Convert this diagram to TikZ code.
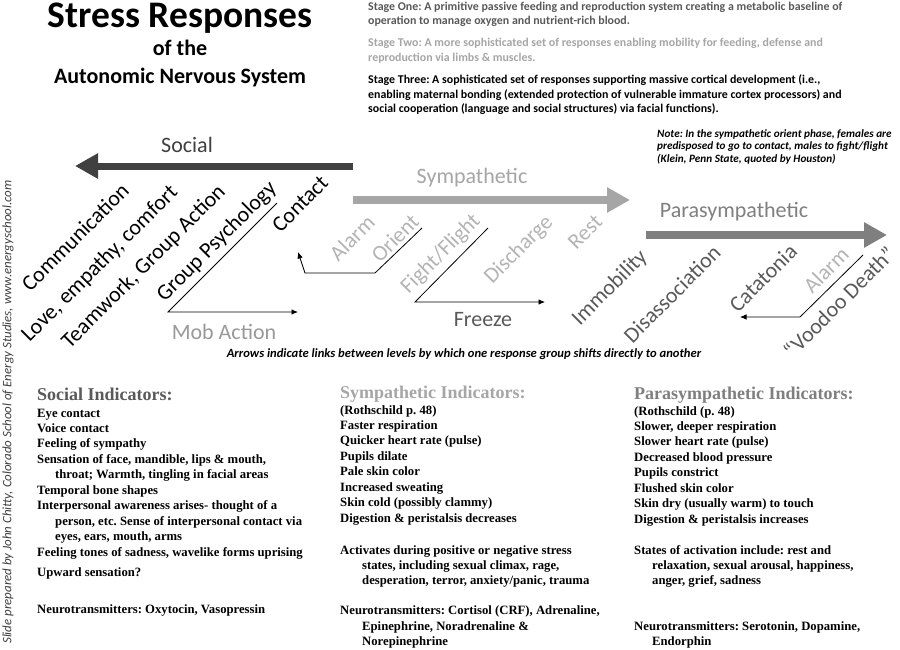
\documentclass[tikz,border=0pt]{standalone}
\usepackage{fontspec}
\setmainfont{Carlito}
\newfontfamily\tmsfont{Liberation Serif}
\usetikzlibrary{arrows.meta}
\frenchspacing
\definecolor{socdark}{HTML}{404040}
\definecolor{symgray}{HTML}{A6A6A6}
\definecolor{symlbl}{HTML}{B4B4B4}
\definecolor{pargray}{HTML}{7F7F7F}
\definecolor{pardark}{HTML}{595959}
\definecolor{stageone}{HTML}{595959}
\definecolor{mobgray}{HTML}{999999}
\definecolor{sidegray}{HTML}{404040}
\begin{document}
\frenchspacing
\begin{tikzpicture}[x=1pt,y=-1pt,
  every node/.style={inner sep=0pt},
  lbl/.style={font=\fontsize{22}{26}\selectfont},
  soclbl/.style={lbl,text=black,rotate=45},
  symlabel/.style={lbl,text=symlbl,rotate=45},
  parlabel/.style={lbl,text=pardark,rotate=45},
  band/.style={line width=8pt,-{Triangle[length=23pt,width=24pt]}},
  link/.style={line width=0.8pt,draw=black},
  linkarrow/.style={link,-{Latex[length=6.5pt,width=5.5pt]}},
  stagetxt/.style={anchor=base west,font=\fontsize{11.9}{14}\selectfont\bfseries},
  notetxt/.style={anchor=base west,font=\fontsize{11.2}{12}\selectfont\bfseries\itshape},
  ind/.style={anchor=base west,font=\tmsfont\fontsize{12.7}{15}\selectfont\bfseries},
  indhead/.style={anchor=base west,font=\tmsfont\fontsize{18}{20}\selectfont\bfseries}
]
\useasboundingbox (0,0) rectangle (900,649);
\fill[white] (0,0) rectangle (900,649);

% title
\node[anchor=base,font=\fontsize{37.5}{40}\selectfont\bfseries] (title1) at (180,27) {Stress Responses};
\node[anchor=base,font=\fontsize{22}{26}\selectfont\bfseries] (title2) at (180,55) {of the};
\node[anchor=base,font=\fontsize{22}{26}\selectfont\bfseries] (title3) at (180,83) {Autonomic Nervous System};

% stages
\node[stagetxt,text=stageone] (s1a) at (368,10) {Stage One: A primitive passive feeding and reproduction system creating a metabolic baseline of};
\node[stagetxt,text=stageone] (s1b) at (368,24.5) {operation to manage oxygen and nutrient-rich blood.};
\node[stagetxt,text=symgray] (s2a) at (368,46) {Stage Two: A more sophisticated set of responses enabling mobility for feeding, defense and};
\node[stagetxt,text=symgray] (s2b) at (368,61) {reproduction via limbs \& muscles.};
\node[stagetxt] (s3a) at (368,83) {Stage Three: A sophisticated set of responses supporting massive cortical development (i.e.,};
\node[stagetxt] (s3b) at (368,98) {enabling maternal bonding (extended protection of vulnerable immature cortex processors) and};
\node[stagetxt] (s3c) at (368,112) {social cooperation (language and social structures) via facial functions).};

% note
\node[notetxt] (n1) at (657,137) {Note: In the sympathetic orient phase, females are};
\node[notetxt] (n2) at (657,149.5) {predisposed to go to contact, males to fight/flight};
\node[notetxt] (n3) at (657,162) {(Klein, Penn State, quoted by Houston)};

% side text
\node[rotate=90,font=\fontsize{12.9}{14}\selectfont\itshape,text=sidegray] (side) at (8,412) {Slide prepared by John Chitty, Colorado School of Energy Studies, www.energyschool.com};

% main bands
\coordinate (socS) at (353,166); \coordinate (socE) at (75,166);
\coordinate (symS) at (353,200); \coordinate (symE) at (630,200);
\coordinate (parS) at (646,235); \coordinate (parE) at (887,235);
\draw[band,draw=socdark,fill=socdark,line width=7pt] (socS) -- (socE);
\draw[band,draw=symgray,fill=symgray] (symS) -- (symE);
\draw[band,draw=pargray,fill=pargray] (parS) -- (parE);

\node[lbl,text=socdark] (social) at (187,145) {Social};
\node[lbl,text=symgray] (symp) at (472,178) {Sympathetic};
\node[lbl,text=pargray] (para) at (734,212) {Parasympathetic};

% social labels
\node[soclbl] (comm) at (75,237) {Communication};
\node[soclbl] (love) at (100,264) {Love, empathy, comfort};
\node[soclbl] (team) at (144,267) {Teamwork, Group Action};
\node[soclbl] (grp) at (217,242) {Group Psychology};
\node[soclbl] (contact) at (300,204) {Contact};
\node[lbl,text=mobgray] (mob) at (224,332) {Mob Action};

% sympathetic labels
\node[symlabel] (alarm1) at (352,238) {Alarm};
\node[symlabel] (orient) at (395,238) {Orient};
\node[symlabel] (fight) at (441,254) {Fight/Flight};
\node[symlabel] (disch) at (519,250) {Discharge};
\node[symlabel] (rest) at (585,232) {Rest};
\node[lbl,text=pardark] (freeze) at (483,320) {Freeze};

% parasympathetic labels
\node[parlabel] (immob) at (610,288) {Immobility};
\node[parlabel] (disas) at (672,294) {Disassociation};
\node[parlabel] (cata) at (763,278) {Catatonia};
\node[symlabel] (alarm2) at (826,270) {Alarm};
\node[parlabel] (voodoo) at (839,302) {“Voodoo Death”};

% link arrows
\coordinate (gpA) at (277,203); \coordinate (gpB) at (168,312); \coordinate (gpC) at (298,312);
\draw[linkarrow] (gpA) -- (gpB) -- (gpC);
\coordinate (orA) at (422,228); \coordinate (orB) at (375,273); \coordinate (orC) at (305,273); \coordinate (orD) at (298,252);
\draw[linkarrow] (orA) -- (orB) -- (orC) -- (orD);
\coordinate (ffA) at (488,228); \coordinate (ffB) at (415,302); \coordinate (ffC) at (545,302);
\draw[linkarrow] (ffA) -- (ffB) -- (ffC);
\coordinate (alA) at (863,255); \coordinate (alB) at (800,317); \coordinate (alC) at (740,317);
\draw[linkarrow] (alA) -- (alB) -- (alC);

\node[anchor=base,font=\fontsize{12.6}{14}\selectfont\bfseries\itshape] (caption) at (464,357) {Arrows indicate links between levels by which one response group shifts directly to another};

% social indicators
\node[indhead,text=stageone] (sochead) at (37,400) {Social Indicators:};
\node[ind] (so1) at (37,417) {Eye contact};
\node[ind] (so2) at (37,432.4) {Voice contact};
\node[ind] (so3) at (37,447.9) {Feeling of sympathy};
\node[ind] (so4) at (37,463.3) {Sensation of face, mandible, lips \& mouth,};
\node[ind] (so5) at (55,478.8) {throat; Warmth, tingling in facial areas};
\node[ind] (so6) at (37,494.2) {Temporal bone shapes};
\node[ind] (so7) at (37,509.6) {Interpersonal awareness arises- thought of a};
\node[ind] (so8) at (55,525.1) {person, etc. Sense of interpersonal contact via};
\node[ind] (so9) at (55,540.5) {eyes, ears, mouth, arms};
\node[ind] (so10) at (37,556) {Feeling tones of sadness, wavelike forms uprising};
\node[ind] (so11) at (37,576) {Upward sensation?};
\node[ind] (so12) at (37,613) {Neurotransmitters: Oxytocin, Vasopressin};

% sympathetic indicators
\node[indhead,text=symgray] (symhead) at (340,398) {Sympathetic Indicators:};
\node[ind] (sy1) at (340,414) {(Rothschild p. 48)};
\node[ind] (sy2) at (340,429.4) {Faster respiration};
\node[ind] (sy3) at (340,444.9) {Quicker heart rate (pulse)};
\node[ind] (sy4) at (340,460.3) {Pupils dilate};
\node[ind] (sy5) at (340,475.8) {Pale skin color};
\node[ind] (sy6) at (340,491.2) {Increased sweating};
\node[ind] (sy7) at (340,506.6) {Skin cold (possibly clammy)};
\node[ind] (sy8) at (340,522) {Digestion \& peristalsis decreases};
\node[ind] (sy9) at (340,554) {Activates during positive or negative stress};
\node[ind] (sy10) at (362,569) {states, including sexual climax, rage,};
\node[ind] (sy11) at (362,584) {desperation, terror, anxiety/panic, trauma};
\node[ind] (sy12) at (340,614.5) {Neurotransmitters: Cortisol (CRF), Adrenaline,};
\node[ind] (sy13) at (362,630) {Epinephrine, Noradrenaline \&};
\node[ind] (sy14) at (362,645.5) {Norepinephrine};

% parasympathetic indicators
\node[indhead,text=pargray] (parhead) at (634,399) {Parasympathetic Indicators:};
\node[ind] (pa1) at (634,415) {(Rothschild (p. 48)};
\node[ind] (pa2) at (634,430.4) {Slower, deeper respiration};
\node[ind] (pa3) at (634,445.9) {Slower heart rate (pulse)};
\node[ind] (pa4) at (634,461.3) {Decreased blood pressure};
\node[ind] (pa5) at (634,476.8) {Pupils constrict};
\node[ind] (pa6) at (634,492.2) {Flushed skin color};
\node[ind] (pa7) at (634,507.6) {Skin dry (usually warm) to touch};
\node[ind] (pa8) at (634,523) {Digestion \& peristalsis increases};
\node[ind] (pa9) at (634,554) {States of activation include: rest and};
\node[ind] (pa10) at (652,569) {relaxation, sexual arousal, happiness,};
\node[ind] (pa11) at (652,584) {anger, grief, sadness};
\node[ind] (pa12) at (634,630) {Neurotransmitters: Serotonin, Dopamine,};
\node[ind] (pa13) at (652,645.5) {Endorphin};
\end{tikzpicture}
\end{document}
